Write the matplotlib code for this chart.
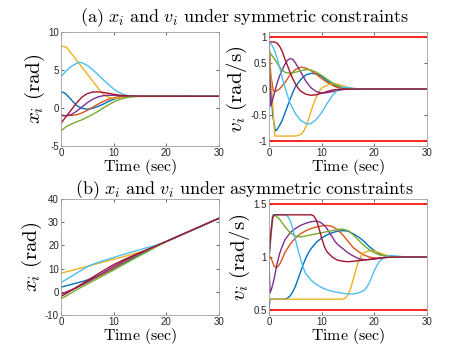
import matplotlib
matplotlib.use("Agg")
import matplotlib.pyplot as plt

plt.rcParams['mathtext.fontset'] = 'cm'
plt.rcParams['font.family'] = ['Liberation Sans', 'DejaVu Sans']

# MATLAB default line colours, in plotting order
colors = ['#0072BD', '#D95319', '#EDB120', '#7E2F8E', '#77AC30', '#4DBEEE', '#A2142F']
bound_color = '#FF0000'

# ---- (a) symmetric constraints: positions ----
xa_blue_t = [0, 0.5, 1, 2, 3, 4, 5, 6, 7, 8, 9, 10, 11, 12, 13, 15, 30]
xa_blue = [2.1, 2.05, 1.8, 1.05, 0.3, -0.05, -0.15, -0.05, 0.2, 0.5, 0.85, 1.15, 1.35, 1.47, 1.53, 1.55, 1.55]
xa_orange_t = [0, 1, 2, 3, 4, 5, 6, 7, 8, 9, 10, 11, 12, 13, 15, 30]
xa_orange = [-1.0, -1.0, -0.98, -0.88, -0.65, -0.3, 0.1, 0.5, 0.85, 1.15, 1.35, 1.48, 1.55, 1.57, 1.56, 1.55]
xa_yellow_t = [0, 0.5, 1, 1.5, 2, 3, 4, 5, 6, 7, 7.5, 8, 8.5, 9, 10, 11, 12, 14, 30]
xa_yellow = [8.1, 8.1, 8.0, 7.6, 7.15, 6.25, 5.35, 4.45, 3.55, 2.65, 2.2, 1.85, 1.6, 1.42, 1.28, 1.32, 1.42, 1.52, 1.55]
xa_purple_t = [0, 0.5, 1, 2, 3, 4, 5, 6, 7, 8, 9, 10, 11, 12, 14, 30]
xa_purple = [-0.9, -1.0, -1.02, -0.85, -0.4, 0.15, 0.7, 1.15, 1.45, 1.62, 1.68, 1.67, 1.63, 1.59, 1.56, 1.55]
xa_green_t = [0, 1, 2, 3, 4, 5, 6, 7, 8, 9, 10, 11, 12, 13, 14, 16, 30]
xa_green = [-3.0, -2.45, -2.1, -1.8, -1.55, -1.2, -0.85, -0.45, 0.0, 0.4, 0.8, 1.1, 1.3, 1.42, 1.5, 1.55, 1.55]
xa_cyan_t = [0, 1, 2, 3, 3.5, 4, 5, 6, 7, 8, 9, 10, 11, 12, 13, 14, 16, 30]
xa_cyan = [4.1, 4.9, 5.5, 5.9, 6.0, 5.95, 5.6, 5.05, 4.4, 3.75, 3.1, 2.5, 2.05, 1.75, 1.6, 1.55, 1.53, 1.55]
xa_red_t = [0, 1, 2, 3, 4, 5, 6, 7, 8, 9, 10, 11, 12, 14, 16, 30]
xa_red = [-2.0, -1.1, -0.2, 0.7, 1.45, 1.9, 2.1, 2.12, 2.05, 1.93, 1.8, 1.7, 1.63, 1.57, 1.55, 1.55]

# ---- (a) symmetric constraints: velocities ----
va_blue_t = [0, 0.3, 0.7, 1.2, 1.5, 2, 2.5, 3, 3.5, 4, 4.5, 5, 6, 7, 8, 9, 10, 11, 12, 13, 14, 16, 30]
va_blue = [0.9, 0.2, -0.5, -0.8, -0.78, -0.7, -0.6, -0.47, -0.33, -0.2, -0.07, 0.04, 0.18, 0.27, 0.3, 0.29, 0.24, 0.16, 0.09, 0.04, 0.01, 0, 0]
va_orange_t = [0, 0.3, 0.8, 1.2, 2, 3, 4, 5, 6, 7, 8, 9, 10, 11, 12, 13, 14, 16, 30]
va_orange = [0.9, 0.3, -0.03, -0.05, 0.0, 0.12, 0.27, 0.37, 0.42, 0.4, 0.35, 0.28, 0.2, 0.13, 0.07, 0.03, 0.01, 0, 0]
va_yellow_t = [0, 0.5, 1.1, 2, 5, 5.5, 6, 6.5, 7, 7.5, 8, 8.5, 9, 9.5, 10, 11, 12, 13, 14, 15, 16, 18, 30]
va_yellow = [0.85, 0.0, -0.9, -0.9, -0.9, -0.89, -0.87, -0.82, -0.72, -0.58, -0.42, -0.28, -0.15, -0.05, 0.02, 0.07, 0.1, 0.09, 0.06, 0.03, 0.01, 0, 0]
va_purple_t = [0, 0.15, 0.35, 0.7, 1.5, 2, 3, 3.5, 4, 4.5, 5, 6, 7, 8, 9, 10, 11, 12, 13, 14, 16, 30]
va_purple = [0.9, 0.3, -0.33, -0.2, 0.1, 0.25, 0.47, 0.55, 0.58, 0.57, 0.5, 0.33, 0.15, 0.02, -0.05, -0.08, -0.07, -0.05, -0.03, -0.01, 0, 0]
va_green_t = [0, 1, 2, 3, 4, 5, 6, 7, 7.5, 8, 9, 10, 11, 12, 13, 14, 15, 17, 30]
va_green = [0.72, 0.58, 0.42, 0.32, 0.3, 0.32, 0.35, 0.37, 0.37, 0.36, 0.32, 0.26, 0.19, 0.12, 0.07, 0.03, 0.01, 0, 0]
va_cyan_t = [0, 0.5, 1, 1.5, 2, 2.5, 3, 3.5, 4, 5, 6, 7, 7.5, 8, 9, 10, 11, 12, 13, 14, 15, 16, 18, 30]
va_cyan = [0.9, 0.85, 0.75, 0.6, 0.42, 0.22, 0.05, -0.12, -0.27, -0.47, -0.6, -0.66, -0.67, -0.66, -0.58, -0.45, -0.28, -0.13, -0.02, 0.03, 0.03, 0.01, 0, 0]
va_red_t = [0, 1, 1.5, 2, 2.5, 3, 3.5, 4, 4.5, 5, 5.5, 6, 7, 8, 9, 10, 11, 12, 14, 30]
va_red = [0.9, 0.9, 0.88, 0.82, 0.72, 0.58, 0.45, 0.32, 0.2, 0.1, 0.02, -0.04, -0.1, -0.12, -0.11, -0.08, -0.05, -0.02, 0, 0]
va_bounds = [-1.0, 1.0]

# ---- (b) asymmetric constraints: positions ----
xb_blue_t = [0, 2, 4, 6, 8, 10, 12, 14, 16, 18, 20, 25, 30]
xb_blue = [2.0, 3.2, 4.4, 5.8, 7.7, 10.0, 12.4, 14.9, 17.3, 19.6, 21.7, 26.7, 31.7]
xb_orange_t = [0, 1, 2, 3, 4, 5, 6, 7, 8, 10, 12, 14, 16, 18, 20, 25, 30]
xb_orange = [-1.0, -0.05, 0.85, 1.85, 2.95, 4.1, 5.3, 6.5, 7.75, 10.3, 12.9, 15.4, 17.7, 19.8, 21.7, 26.7, 31.7]
xb_yellow_t = [0, 5, 10, 15, 16, 17, 18, 20, 25, 30]
xb_yellow = [8.0, 11.0, 14.0, 17.1, 17.8, 18.7, 19.7, 21.7, 26.7, 31.7]
xb_purple_t = [0, 1, 2, 3, 4, 5, 6, 7, 8, 10, 12, 14, 16, 18, 20, 25, 30]
xb_purple = [-0.9, -0.15, 0.77, 1.87, 3.1, 4.3, 5.6, 6.9, 8.2, 10.9, 13.4, 15.7, 17.8, 19.75, 21.7, 26.7, 31.7]
xb_green_t = [0, 1, 2, 3, 4, 5, 6, 8, 10, 12, 14, 16, 18, 20, 22, 25, 30]
xb_green = [-3.0, -1.8, -0.4, 0.9, 2.15, 3.35, 4.55, 6.95, 9.4, 11.9, 14.4, 16.8, 19.3, 21.6, 23.65, 26.7, 31.7]
xb_cyan_t = [0, 1, 2, 3, 4, 5, 6, 7, 8, 10, 12, 14, 16, 18, 19, 20, 22, 25, 30]
xb_cyan = [4.0, 5.3, 6.7, 8.1, 9.5, 10.8, 11.8, 12.6, 13.4, 14.8, 16.2, 17.5, 18.8, 20.1, 20.8, 21.7, 23.7, 26.7, 31.7]
xb_red_t = [0, 1, 2, 4, 6, 8, 10, 12, 14, 16, 18, 20, 25, 30]
xb_red = [-2.0, -0.75, 0.65, 3.45, 6.25, 9.05, 11.7, 13.9, 15.9, 17.8, 19.7, 21.7, 26.7, 31.7]

# ---- (b) asymmetric constraints: velocities ----
vb_blue_t = [0, 0.2, 1, 3, 3.5, 4, 4.5, 5, 5.5, 6, 6.5, 7, 7.5, 8, 9, 10, 11, 12, 13, 14, 15, 16, 17, 18, 19, 20, 21, 22, 24, 30]
vb_blue = [0.5, 0.6, 0.6, 0.6, 0.61, 0.63, 0.67, 0.72, 0.79, 0.86, 0.93, 0.99, 1.04, 1.08, 1.14, 1.18, 1.21, 1.23, 1.245, 1.25, 1.245, 1.22, 1.19, 1.15, 1.1, 1.06, 1.03, 1.01, 1.0, 1.0]
vb_orange_t = [0, 0.3, 0.7, 1, 1.5, 2, 2.5, 3, 3.5, 4, 5, 6, 7, 8, 9, 10, 11, 12, 13, 14, 15, 16, 17, 18, 19, 20, 21, 23, 30]
vb_orange = [0.98, 1.0, 0.95, 0.91, 0.9, 0.93, 0.98, 1.04, 1.08, 1.12, 1.18, 1.22, 1.25, 1.27, 1.285, 1.295, 1.3, 1.29, 1.26, 1.21, 1.15, 1.09, 1.05, 1.02, 1.0, 0.99, 0.99, 1.0, 1.0]
vb_yellow_t = [0, 14, 14.5, 15, 15.5, 16, 16.5, 17, 17.5, 18, 19, 20, 21, 22, 23, 25, 30]
vb_yellow = [0.6, 0.6, 0.61, 0.64, 0.7, 0.79, 0.88, 0.96, 1.01, 1.04, 1.06, 1.055, 1.04, 1.02, 1.01, 1.0, 1.0]
vb_purple_t = [0, 0.2, 0.5, 1, 1.5, 2, 2.5, 3, 4, 5, 6, 7, 8, 9, 9.5, 10, 10.5, 11, 11.5, 12, 12.5, 13, 14, 15, 16, 17, 18, 19, 20, 22, 24, 30]
vb_purple = [0.95, 0.66, 0.7, 0.8, 0.93, 1.03, 1.1, 1.16, 1.23, 1.27, 1.3, 1.32, 1.335, 1.34, 1.335, 1.32, 1.3, 1.27, 1.23, 1.19, 1.15, 1.12, 1.08, 1.04, 1.01, 0.985, 0.975, 0.975, 0.98, 0.995, 1.0, 1.0]
vb_green_t = [0, 0.3, 0.7, 1, 2, 3, 4, 5, 6, 7, 8, 9, 10, 11, 12, 13, 14, 15, 16, 17, 18, 19, 20, 21, 22, 24, 30]
vb_green = [0.97, 1.15, 1.37, 1.4, 1.36, 1.29, 1.23, 1.2, 1.19, 1.2, 1.21, 1.22, 1.23, 1.24, 1.25, 1.26, 1.265, 1.25, 1.21, 1.16, 1.11, 1.07, 1.04, 1.02, 1.01, 1.0, 1.0]
vb_cyan_t = [0, 0.3, 0.7, 1, 3, 3.5, 4, 4.5, 5, 5.5, 6, 6.5, 7, 8, 9, 10, 11, 12, 13, 14, 15, 16, 17, 18, 18.5, 19, 19.5, 20, 20.5, 21, 22, 23, 24, 26, 30]
vb_cyan = [1.0, 1.2, 1.4, 1.4, 1.4, 1.39, 1.35, 1.27, 1.17, 1.07, 0.98, 0.9, 0.84, 0.78, 0.74, 0.71, 0.69, 0.675, 0.665, 0.655, 0.65, 0.65, 0.66, 0.68, 0.71, 0.75, 0.81, 0.87, 0.92, 0.96, 1.0, 1.015, 1.01, 1.0, 1.0]
vb_red_t = [0, 0.3, 0.7, 1, 2, 8, 8.5, 9, 9.5, 10, 10.5, 11, 12, 13, 14, 15, 16, 18, 20, 22, 24, 30]
vb_red = [1.0, 1.2, 1.38, 1.4, 1.4, 1.4, 1.39, 1.35, 1.27, 1.18, 1.1, 1.05, 1.0, 0.97, 0.96, 0.955, 0.96, 0.97, 0.985, 0.995, 1.0, 1.0]
vb_bounds = [0.5, 1.5]

xa = [(xa_blue_t, xa_blue), (xa_orange_t, xa_orange), (xa_yellow_t, xa_yellow), (xa_purple_t, xa_purple),
      (xa_green_t, xa_green), (xa_cyan_t, xa_cyan), (xa_red_t, xa_red)]
va = [(va_blue_t, va_blue), (va_orange_t, va_orange), (va_yellow_t, va_yellow), (va_purple_t, va_purple),
      (va_green_t, va_green), (va_cyan_t, va_cyan), (va_red_t, va_red)]
xb = [(xb_blue_t, xb_blue), (xb_orange_t, xb_orange), (xb_yellow_t, xb_yellow), (xb_purple_t, xb_purple),
      (xb_green_t, xb_green), (xb_cyan_t, xb_cyan), (xb_red_t, xb_red)]
vb = [(vb_blue_t, vb_blue), (vb_orange_t, vb_orange), (vb_yellow_t, vb_yellow), (vb_purple_t, vb_purple),
      (vb_green_t, vb_green), (vb_cyan_t, vb_cyan), (vb_red_t, vb_red)]

fig = plt.figure(figsize=(4.72, 3.54), dpi=100)
W, H = 472, 354


def make_axes(x0, y0, x1, y1):
    return fig.add_axes([x0 / W, 1 - y1 / H, (x1 - x0) / W, (y1 - y0) / H])


def style(ax, ylim, yticks, yticklabels, ylabel):
    ax.set_xlim(0, 30)
    ax.set_ylim(*ylim)
    ax.set_xticks([0, 10, 20, 30])
    ax.set_yticks(yticks)
    ax.set_yticklabels(yticklabels)
    ax.tick_params(direction='in', length=2, width=0.5, labelsize=7, colors='#262626',
                   top=True, right=True, pad=1.5)
    for s in ax.spines.values():
        s.set_color('#a0a0a0')
        s.set_linewidth(0.6)
    ax.set_xlabel(r'$\mathrm{Time\ (sec)}$', fontsize=11.5, labelpad=-1)
    ax.set_ylabel(ylabel, fontsize=15, labelpad=1)


def draw(ax, series):
    for (t, y), c in zip(series, colors):
        ax.plot(t, y, color=c, lw=1.0)


ax1 = make_axes(61, 32, 219, 146)
draw(ax1, xa)
style(ax1, (-5, 10), [-5, 0, 5, 10], ['-5', '0', '5', '10'], r'$x_i\ \mathrm{(rad)}$')

ax2 = make_axes(269, 32, 427, 146)
draw(ax2, va)
for b in va_bounds:
    ax2.axhline(b, color=bound_color, lw=1.2)
style(ax2, (-1.09, 1.09), [-1, -0.5, 0, 0.5, 1], ['-1', '-0.5', '0', '0.5', '1'], r'$v_i\ \mathrm{(rad/s)}$')

ax3 = make_axes(61, 199, 219, 315)
draw(ax3, xb)
style(ax3, (-10, 40), [-10, 0, 10, 20, 30, 40], ['-10', '0', '10', '20', '30', '40'], r'$x_i\ \mathrm{(rad)}$')

ax4 = make_axes(269, 199, 427, 315)
draw(ax4, vb)
for b in vb_bounds:
    ax4.axhline(b, color=bound_color, lw=1.2)
style(ax4, (0.45, 1.55), [0.5, 1, 1.5], ['0.5', '1', '1.5'], r'$v_i\ \mathrm{(rad/s)}$')

fig.text(244 / W, 1 - 18 / H, r'$\mathrm{(a)}\ x_i\ \mathrm{and}\ v_i\ \mathrm{under\ symmetric\ constraints}$',
         ha='center', va='center', fontsize=13)
fig.text(244 / W, 1 - 189.5 / H, r'$\mathrm{(b)}\ x_i\ \mathrm{and}\ v_i\ \mathrm{under\ asymmetric\ constraints}$',
         ha='center', va='center', fontsize=13)

fig.savefig('out.png', dpi=100)
